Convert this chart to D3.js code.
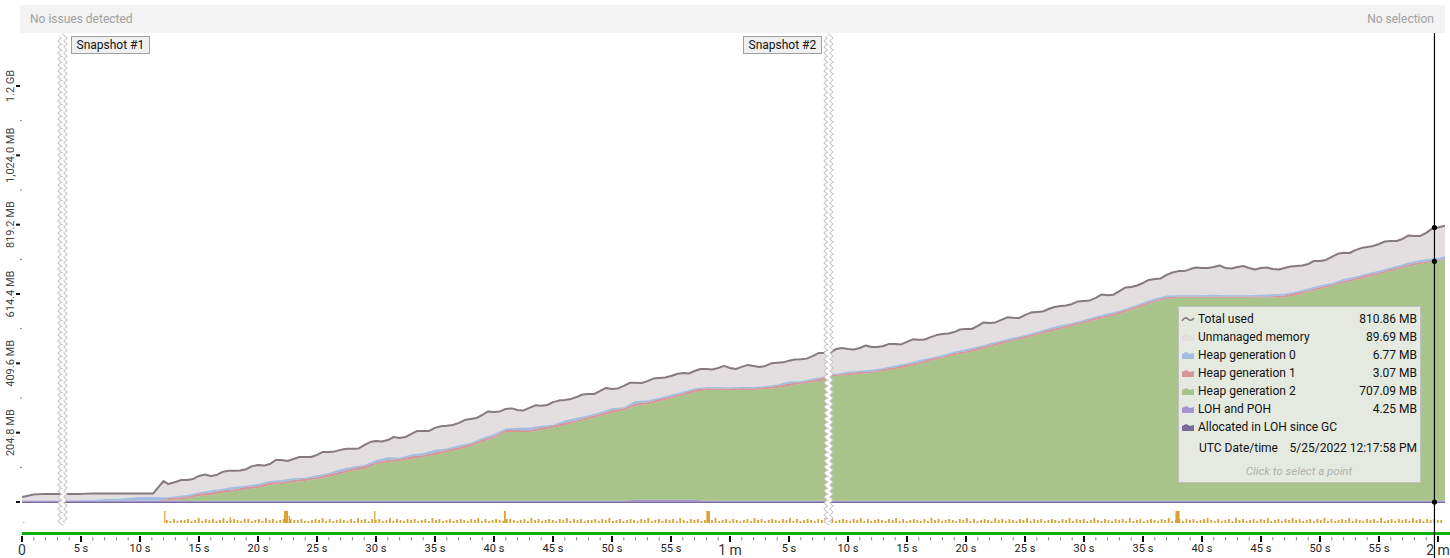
<!DOCTYPE html>
<html><head><meta charset="utf-8">
<script src="https://cdn.jsdelivr.net/npm/d3@7"></script>
<style>
html,body{margin:0;padding:0;background:#fff;overflow:hidden;}
svg{display:block;font-family:Roboto,"Noto Sans",sans-serif;}
</style></head><body>
<svg id="chart" width="1450" height="558"></svg>
<script>
// ---------------- data ----------------
const timeSec = [0,1,2,3,4,5,6,7,8,9,10,11,11.1,12,12.4,
 13,14,15,16,17,18,19,20,21,22,23,24,25,26,27,28,29,30,31,32,33,34,35,36,37,38,39,40,
 41,42,43,44,45,46,47,48,49,50,51,52,53,54,55,56,57,58,59,60,61,62,63,64,65,66,67,68,
 68.4,
 69,70,71,72,73,74,75,76,77,78,79,80,81,82,83,84,85,86,87,88,89,90,91,92,93,94,
 95,96,97,98,99,100,101,102,103,104,105,106,107,108,109,110,111,112,113,114,115,116,117,118,119,120,
 120.6];
const totalUsedMB = [15,22,24,24,24,24,25,25,25,25,25,25,25,62,53,
 59,65,77,77,89,92,97,109,112,124,127,133,139,148,154,157,168,180,183,189,201,210,219,225,233,245,257,266,
 275,272,278,284,295,301,310,319,328,334,343,352,357,366,372,381,387,393,396,396,399,402,402,411,417,422,431,440,
 452,
 452,452,455,458,461,467,473,479,487,496,502,511,520,529,538,544,552,561,570,579,585,594,603,611,623,635,
 647,659,671,682,688,691,694,691,694,691,691,688,691,697,703,712,724,736,744,753,762,771,777,786,795,811,
 816];
// saw-tooth of the total line between whole seconds (13.5 s ... 119.5 s):
// digit d -> offset (d-4)*1.5 MB from the straight segment
const totalMidOffsets =
 "6272536281" + "6273516282" + "7153628261" + "7253618272" + "6351628172" +
 "6352716283" + "6172536182" + "7162536281" + "7361526382" + "7162537261" + "5362817";
const gen2MB = [0,0,0,0,0,0,0,0,0,0,0,0,0,0,2,
 3,6,14,17,23,28,34,37,46,49,55,58,64,70,79,88,93,108,114,117,123,129,135,144,150,161,173,185,
 203,203,203,209,215,223,232,241,250,259,268,277,282,290,299,308,317,327,327,327,327,327,330,333,339,345,350,356,
 368,
 368,371,374,377,383,389,395,404,413,421,430,436,445,454,463,472,480,489,498,507,516,525,534,542,551,563,
 575,587,596,599,599,599,599,599,599,599,600,600,601,607,616,625,634,643,652,660,669,678,687,696,703,707,
 712];
const gen1MB = [0,0,0,0,0,0,0,0,0,0,0,0,0,2,5,
 6,5,7,6,8,5,7,6,8,5,6,7,5,8,6,7,9,5,7,6,8,5,7,6,8,6,7,5,
 6,6,5,7,6,8,5,7,6,8,5,7,6,7,5,6,8,5,4,4,5,4,5,6,7,5,6,7,
 4,
 4,5,6,4,6,5,7,5,6,4,6,5,7,5,6,4,6,5,7,5,6,4,6,5,7,5,
 6,4,5,4,3,4,3,4,3,4,3,4,5,7,5,6,4,6,5,7,4,6,5,6,4,3,
 3];
const gen0MB = [0,0,0,0,0,2,2,5,5,8,11,11,11,8,3,
 4,6,3,7,4,8,3,6,4,7,5,3,6,4,8,5,3,6,7,4,5,6,8,4,6,3,5,7,
 4,6,8,5,3,6,7,4,5,6,3,7,5,4,6,5,4,3,5,3,4,5,3,4,6,3,5,4,
 3,
 3,5,4,6,3,5,4,6,3,5,4,6,3,5,4,6,3,5,4,6,3,5,4,6,3,5,
 4,6,5,4,5,4,6,4,5,4,5,6,5,4,6,5,4,6,5,4,6,5,6,5,6,7,
 7];
const lohMB = [4,4,4,4,4,4,4,4,4,4,4,4,4,4,4,
 4,4,4,4,4,4,4,4,4,4,4,4,4,4,4,4,4,4,4,4,4,4,4,4,4,4,4,4,
 4,4,4,4,4,4,4,4,4,4,4,7,7,7,7,7,7,4,4,4,4,4,4,4,4,4,4,4,
 4,
 4,4,4,4,4,4,4,4,4,4,4,4,4,4,4,4,4,4,4,4,4,4,4,4,4,4,
 4,4,4,4,4,4,4,4,4,4,4,4,4,4,4,4,4,4,4,4,4,4,4,4,4,4,
 4];

// allocation-rate bars (small yellow bars under the chart), one level per sample
const allocStartSec = 12.2, allocStepSec = 0.3;
const allocLevels =
 "3242334235243423523432442342534234243342" +
 "2343524234324253424342352432434234253423" +
 "4234324352423432443234253423432435243423" +
 "3424352342343243523424342532434234352342" +
 "4323425342343243524234324352423432435242" +
 "3432435242343242534234324352423432534243" +
 "2435243423432435243423532432434252342343" +
 "2435234243423453242342534234243523424353" +
 "4234243524234352432434252342434253424343" + "3";
const bigAllocBars = [
 {t:0.1,w:0.1,v:1},{t:12.05,w:0.1,v:12},{t:17.6,w:0.1,v:6},{t:22.2,w:0.35,v:12},
 {t:22.6,w:0.12,v:7},{t:29.85,w:0.1,v:12},{t:40.85,w:0.15,v:12},{t:58.0,w:0.3,v:12},
 {t:97.75,w:0.35,v:12}];

const yTickValues = [0,204.8,409.6,614.4,819.2,1024,1228.8];
const yTickLabels = ["","204.8 MB","409.6 MB","614.4 MB","819.2 MB","1,024.0 MB","1.2 GB"];
const xTickValues = [0,5,10,15,20,25,30,35,40,45,50,55,60,65,70,75,80,85,90,95,100,105,110,115,120];
const xTickLabels = ["0","5 s","10 s","15 s","20 s","25 s","30 s","35 s","40 s","45 s","50 s","55 s","1 m",
 "5 s","10 s","15 s","20 s","25 s","30 s","35 s","40 s","45 s","50 s","55 s","2 m"];
const snapshots = [{t:3.35,label:"Snapshot #1",side:"right"},{t:68.3,label:"Snapshot #2",side:"left"}];
const cursorSec = 119.7;

const legendRows = [
 {key:"total",label:"Total used",value:"810.86 MB"},
 {key:"unmanaged",label:"Unmanaged memory",value:"89.69 MB"},
 {key:"gen0",label:"Heap generation 0",value:"6.77 MB"},
 {key:"gen1",label:"Heap generation 1",value:"3.07 MB"},
 {key:"gen2",label:"Heap generation 2",value:"707.09 MB"},
 {key:"loh",label:"LOH and POH",value:"4.25 MB"},
 {key:"lohalloc",label:"Allocated in LOH since GC",value:""}];
const legendDate = {label:"UTC Date/time", value:"5/25/2022 12:17:58 PM"};

const colors = {total:"#877a7d",unmanaged:"#e3dfe0",gen0:"#a3bde0",gen1:"#d69596",
 gen2:"#a8c48a",loh:"#a592cf",lohalloc:"#7b6b9c",alloc:"#d9a232",axisGreen:"#0cb20c"};

// ---------------- drawing ----------------
const svg = d3.select("#chart");
const x = d3.scaleLinear().domain([0,120]).range([22,1438]);
const y = d3.scaleLinear().domain([0,1228.8]).range([502,86]);
const plotTop = 35, plotRight = 1445;

// top status bar
svg.append("rect").attr("x",20).attr("y",5).attr("width",1425).attr("height",28).attr("fill","#f3f3f3");
svg.append("text").attr("x",30).attr("y",23).attr("font-size",12).attr("fill","#a0a0a0").text("No issues detected");
svg.append("text").attr("x",1434).attr("y",23).attr("font-size",12).attr("fill","#a0a0a0")
  .attr("text-anchor","end").text("No selection");

// total-used points: whole-second samples plus the saw-tooth samples between them
const totalPts = timeSec.map((t,i)=>({t, v:totalUsedMB[i]}));
totalMidOffsets.split("").forEach((c,k)=>{
  const tm = 13.5 + k;
  const i0 = timeSec.indexOf(tm-0.5), i1 = timeSec.indexOf(tm+0.5);
  if (i0<0 || i1<0) return;
  totalPts.push({t:tm, v:(totalUsedMB[i0]+totalUsedMB[i1])/2 + (+c-4)*1.5});
});
totalPts.sort((a,b)=>a.t-b.t);

// stacked heap layers
const rows = timeSec.map((t,i)=>({t, loh:lohMB[i], gen2:gen2MB[i], gen1:gen1MB[i], gen0:gen0MB[i]}));
const keys = ["loh","gen2","gen1","gen0"];
const series = d3.stack().keys(keys)(rows);

svg.append("clipPath").attr("id","plotclip").append("rect")
  .attr("x",22).attr("y",plotTop).attr("width",plotRight-22).attr("height",502-plotTop+2);
const gPlot = svg.append("g").attr("clip-path","url(#plotclip)");

// unmanaged memory = everything under the total line not covered by heap layers
gPlot.append("path").datum(totalPts).attr("fill",colors.unmanaged)
  .attr("d",d3.area().x(d=>x(d.t)).y0(y(0)).y1(d=>y(d.v)));
const area = d3.area().x(d=>x(d.data.t)).y0(d=>y(d[0])).y1(d=>y(d[1]));
gPlot.selectAll("path.layer").data(series).join("path").attr("class","layer")
  .attr("fill",d=>colors[d.key]).attr("d",area);
// LOH allocated baseline
gPlot.append("line").attr("x1",22).attr("x2",plotRight).attr("y1",y(0)+0.5).attr("y2",y(0)+0.5)
  .attr("stroke",colors.lohalloc).attr("stroke-width",1.2);
// total line
gPlot.append("path").datum(totalPts)
  .attr("fill","none").attr("stroke",colors.total).attr("stroke-width",2).attr("stroke-linejoin","round")
  .attr("d",d3.line().x(d=>x(d.t)).y(d=>y(d.v)));

// y axis
const gY = svg.append("g");
yTickValues.forEach((v,i)=>{
  const yy = y(v);
  gY.append("rect").attr("x",16).attr("y",yy-1).attr("width",4).attr("height",2).attr("fill","#111");
  if (i < yTickValues.length-1) {
    const ym = y((v + yTickValues[i+1])/2);
    gY.append("rect").attr("x",20).attr("y",ym-0.5).attr("width",2).attr("height",1).attr("fill","#888");
  }
  if (yTickLabels[i]) {
    gY.append("text").attr("transform",`translate(14,${yy}) rotate(-90)`)
      .attr("text-anchor","middle").attr("font-size",11).attr("fill","#444").text(yTickLabels[i]);
  }
});

// allocation bars
const ya = d3.scaleLinear().domain([0,12]).range([523,511]);
const allocData = allocLevels.split("").map((c,i)=>({t:allocStartSec+i*allocStepSec, v:+c}));
svg.append("g").selectAll("rect").data(allocData).join("rect")
  .attr("x",d=>x(d.t)).attr("width",1.8).attr("y",d=>ya(d.v)).attr("height",d=>ya(0)-ya(d.v))
  .attr("fill",colors.alloc);
svg.append("g").selectAll("rect").data(bigAllocBars).join("rect")
  .attr("x",d=>x(d.t)).attr("width",d=>Math.max(1.2,x(d.w)-x(0))).attr("y",d=>ya(d.v))
  .attr("height",d=>ya(0)-ya(d.v)).attr("fill",colors.alloc);

// snapshot zigzag markers
snapshots.forEach(s=>{
  const cx = Math.round(x(s.t))+0.5;
  const pts=[];
  for (let yy=plotTop; yy<=525; yy+=3) pts.push([cx + ((Math.round((yy-plotTop)/3)%2)? 1.6:-1.6), yy]);
  const line = d3.line();
  svg.append("path").attr("d",line(pts)).attr("fill","none").attr("stroke","#c9c4c5").attr("stroke-width",5);
  svg.append("path").attr("d",line(pts)).attr("fill","none").attr("stroke","#ffffff").attr("stroke-width",3);
  const g = svg.append("g");
  const txt = g.append("text").attr("font-size",12).attr("fill","#111").text(s.label);
  const w = txt.node().getComputedTextLength()+10;
  const bx = s.side==="right" ? cx+8 : cx-8-w;
  g.insert("rect","text").attr("x",Math.round(bx)+0.5).attr("y",36.5).attr("width",Math.round(w)).attr("height",17)
    .attr("fill","#f0f0f0").attr("stroke","#a0a0a0");
  txt.attr("x",Math.round(bx)+5.5).attr("y",49);
});

// bottom time axis
svg.append("rect").attr("x",22).attr("y",532).attr("width",1428).attr("height",3).attr("fill",colors.axisGreen);
const gX = svg.append("g");
d3.range(0,121).forEach(t=>{
  if (t%5===0) return;
  gX.append("rect").attr("x",x(t)-0.5).attr("y",537).attr("width",1).attr("height",3.5).attr("fill","#8a8a8a");
});
xTickValues.forEach((t,i)=>{
  gX.append("rect").attr("x",x(t)-1).attr("y",536).attr("width",2).attr("height",6).attr("fill","#111");
  const big = (t%60===0);
  gX.append("text").attr("x",x(t)).attr("y",big?555:552).attr("text-anchor","middle")
    .attr("font-size",big?14:11).attr("fill",big?"#333":"#222").text(xTickLabels[i]);
});

// cursor
const cxC = x(cursorSec);
svg.append("line").attr("x1",cxC).attr("x2",cxC).attr("y1",33).attr("y2",558).attr("stroke","#000").attr("stroke-width",1.2);
const ci = timeSec.indexOf(120);
[y(810.86), y(gen2MB[ci]+lohMB[ci]), y(0)].forEach(yy=>{
  svg.append("circle").attr("cx",cxC).attr("cy",yy).attr("r",2.6).attr("fill","#000");
});

// legend
const lg = svg.append("g");
lg.append("rect").attr("x",1178.5).attr("y",306.5).attr("width",242).attr("height",176)
  .attr("fill","#e5eae0").attr("stroke","#c0c0c0");
legendRows.forEach((r,i)=>{
  const yy = 319 + i*18;
  if (r.key==="total") {
    lg.append("path").attr("d",`M1182,${yy+2} q3,-5 6,-2 t6,-1`).attr("fill","none")
      .attr("stroke",colors.total).attr("stroke-width",1.6);
  } else {
    lg.append("path").attr("d",`M1182,${yy+4} L1182,${yy-1} L1186,${yy-3} L1190,${yy-1} L1194,${yy-2} L1194,${yy+4} Z`)
      .attr("fill",colors[r.key]);
  }
  lg.append("text").attr("x",1198).attr("y",yy+4).attr("font-size",12).attr("fill","#111").text(r.label);
  if (r.value) lg.append("text").attr("x",1417).attr("y",yy+4).attr("font-size",12).attr("fill","#111")
    .attr("text-anchor","end").text(r.value);
});
lg.append("text").attr("x",1199).attr("y",452).attr("font-size",12).attr("fill","#111").text(legendDate.label);
lg.append("text").attr("x",1417).attr("y",452).attr("font-size",12).attr("fill","#111").attr("text-anchor","end").text(legendDate.value);
lg.append("text").attr("x",1299).attr("y",475).attr("font-size",11.5).attr("font-style","italic")
  .attr("fill","#b0b0b0").attr("text-anchor","middle").text("Click to select a point");
</script>
</body></html>
